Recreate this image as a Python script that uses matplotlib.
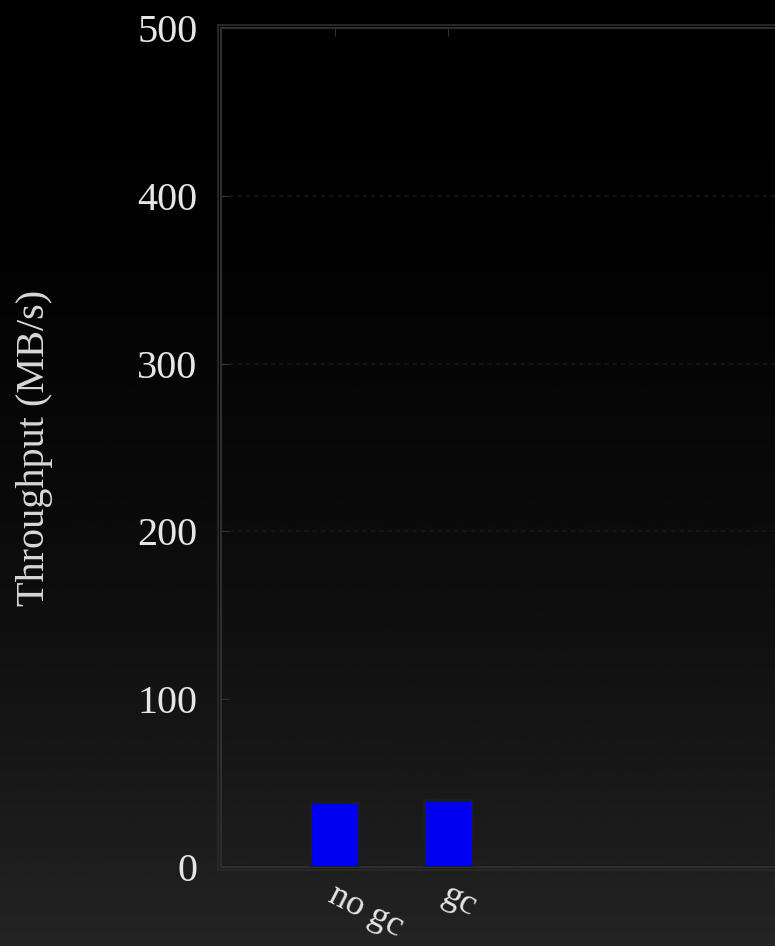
import numpy as np
import matplotlib.pyplot as plt
from matplotlib.transforms import ScaledTranslation, blended_transform_factory

# data
labels = ['no gc', 'gc']
throughput = [39, 40]
yticks = [0, 100, 200, 300, 400, 500]

plt.rcParams['font.family'] = ['Liberation Serif', 'DejaVu Serif']

W, H = 775, 946
fig = plt.figure(figsize=(W / 100, H / 100), dpi=100)

# background gradient, black at top to dark gray at bottom
bg = fig.add_axes([0, 0, 1, 1], zorder=-10)
g = np.linspace(0, 1, 500)
shade = 36 * g ** 2
bg.imshow(shade[:, None], cmap='gray', vmin=0, vmax=255, aspect='auto',
          extent=[0, 1, 1, 0])
bg.axis('off')

def px(l, t, r, b):
    return [l / W, 1 - b / H, (r - l) / W, (b - t) / H]

# outer frame line (double border look)
frame = fig.add_axes(px(218, 25, 800, 870), zorder=-5)
frame.set_facecolor('none')
frame.set_xticks([])
frame.set_yticks([])
for s in frame.spines.values():
    s.set_color('#2a2a2a')
    s.set_linewidth(1.3)

ax = fig.add_axes(px(221, 28, 789, 867))
ax.set_facecolor('none')
x = np.arange(1, len(labels) + 1)
ax.bar(x, throughput, width=0.42, color='#0000f0', edgecolor='#1c1c2c',
       linewidth=1.5, zorder=3)

ax.set_xlim(0, 5)
ax.set_ylim(0, 500)
ax.set_yticks(yticks)
ax.set_yticklabels([str(v) for v in yticks])
ax.set_xticks(x)
ax.set_xticklabels([])

# rotated category labels under the ticks
trans = blended_transform_factory(ax.transData, ax.transAxes)
trans = trans + ScaledTranslation(0.03, -0.12, fig.dpi_scale_trans)
for xi, lab in zip(x, labels):
    ax.text(xi, 0, lab, transform=trans, rotation=-27, ha='left', va='top',
            rotation_mode='anchor', fontsize=26, color='#e6e6e6')

ax.yaxis.grid(True, color='#131313', linestyle=(0, (2, 2)), linewidth=1.5)
ax.set_axisbelow(True)

ax.tick_params(axis='both', direction='in', top=True, right=True,
               length=6, color='#333333', labelcolor='#e6e6e6',
               labelsize=29)
ax.tick_params(axis='y', pad=17)
for s in ax.spines.values():
    s.set_color('#2e2e2e')
    s.set_linewidth(1.5)

ax.set_ylabel('Throughput (MB/s)', fontsize=29, color='#d8d8d8', va='center')
ax.yaxis.set_label_coords((35 - 221) / 568, 0.5)

fig.savefig('out.png', dpi=100)
